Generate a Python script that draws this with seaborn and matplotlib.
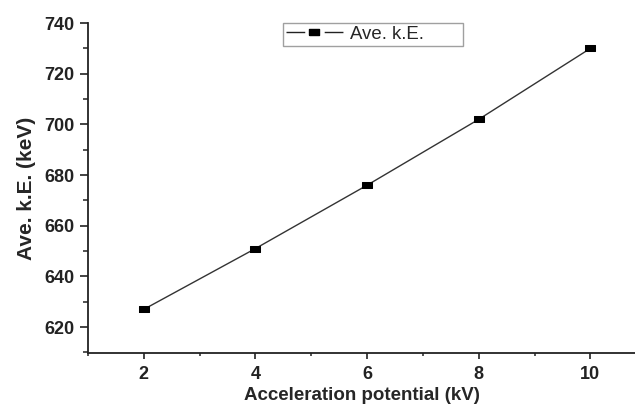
import matplotlib
matplotlib.use("Agg")
import matplotlib.pyplot as plt
from matplotlib.ticker import MultipleLocator
from matplotlib.lines import Line2D
from matplotlib.legend_handler import HandlerTuple
import seaborn as sns
import pandas as pd

# Mean kinetic energy versus accelerating potential
potential_kv = [2, 4, 6, 8, 10]
ave_ke_kev = [627, 651, 676, 702, 730]
series_label = "Ave. k.E."

sns.set_style("ticks")
plt.rcParams["font.family"] = ["Liberation Sans", "DejaVu Sans"]

df = pd.DataFrame({"potential": potential_kv, "ke": ave_ke_kev})

fig = plt.figure(figsize=(6.35, 4.05), dpi=100)
ax = fig.add_axes([0.1386, 0.128, 1.0 - 0.1386, 0.815])

line_color = "#333333"
# slightly wide rectangular marker
rect = [(-1.45, -1.0), (1.45, -1.0), (1.45, 1.0), (-1.45, 1.0), (-1.45, -1.0)]
sns.lineplot(data=df, x="potential", y="ke", ax=ax, color=line_color,
             linewidth=1.0, marker=rect, markersize=7.0,
             markerfacecolor="black", markeredgecolor="black",
             legend=False)

ax.set_xlim(1.0, 10.8)
ax.set_ylim(609.7, 740)
ax.xaxis.set_major_locator(MultipleLocator(2))
ax.xaxis.set_minor_locator(MultipleLocator(1))
ax.yaxis.set_minor_locator(MultipleLocator(10))
ax.set_yticks([620, 640, 660, 680, 700, 720, 740])

for side in ("top", "right"):
    ax.spines[side].set_visible(False)
for side in ("left", "bottom"):
    ax.spines[side].set_linewidth(1.3)
    ax.spines[side].set_color("#222222")

ax.tick_params(axis="y", which="major", direction="out", length=6,
               width=1.2, pad=4, labelsize=13, colors="#222222")
ax.tick_params(axis="y", which="minor", direction="out", length=3.5,
               width=1.1, colors="#222222")
ax.tick_params(axis="x", which="major", direction="out", length=4,
               width=1.2, pad=5, labelsize=13, colors="#222222")
ax.tick_params(axis="x", which="minor", direction="out", length=2.5,
               width=1.1, colors="#222222")
for lab in ax.get_xticklabels() + ax.get_yticklabels():
    lab.set_fontweight("bold")

ax.set_xlabel("Acceleration potential (kV)", fontsize=13.5,
              fontweight="bold", labelpad=3)
ax.set_ylabel("Ave. k.E. (keV)", fontsize=15, fontweight="bold",
              labelpad=6)

# legend key: line segments on both sides of the marker, with small gaps
key_line = Line2D([], [], color="#222222", linewidth=1.0,
                  dashes=(13.5, 14))
key_marker = Line2D([], [], linestyle="none", marker=rect, markersize=6.5,
                    markerfacecolor="black", markeredgecolor="black")
leg = ax.legend(handles=[(key_line, key_marker)],
                labels=[series_label + "       "],
                handler_map={tuple: HandlerTuple(ndivide=1, pad=0)},
                loc="upper center", bbox_to_anchor=(0.521, 1.0),
                borderaxespad=0, fancybox=False, frameon=True,
                handlelength=3.05, fontsize=13.4, borderpad=0.15,
                handletextpad=0.4)
leg.get_frame().set_edgecolor("#888888")
leg.get_frame().set_linewidth(1.0)

fig.savefig("out.png", dpi=100, facecolor="white")
